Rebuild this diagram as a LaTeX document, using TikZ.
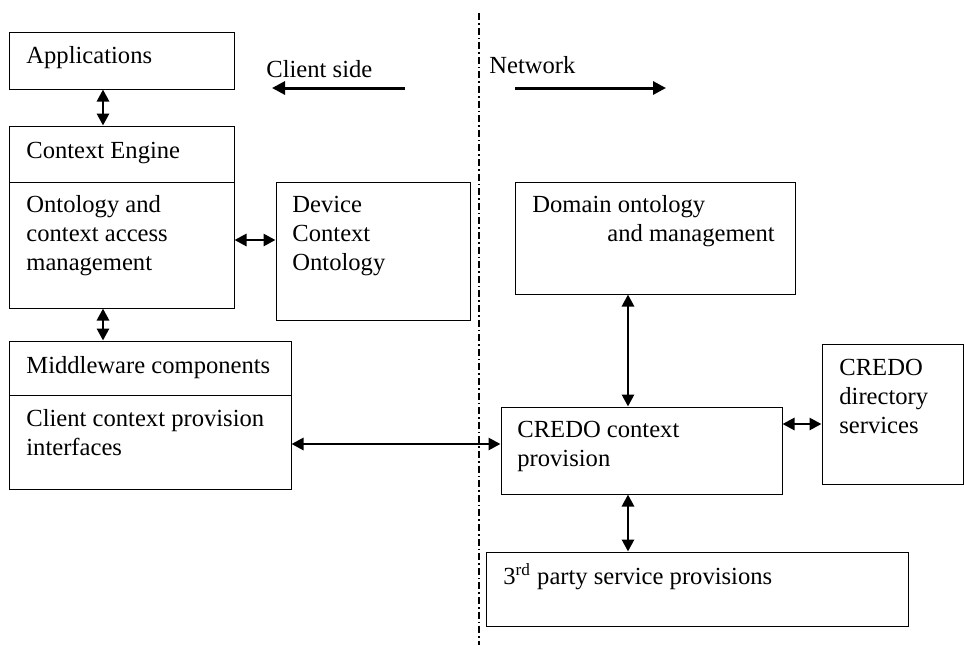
\documentclass[tikz,border=0pt]{standalone}
\usepackage{fontspec}
\setmainfont{Liberation Serif}
\usepackage{tikz}
\usetikzlibrary{arrows.meta,positioning,calc}

\tikzset{
  box/.style={draw, line width=0.5pt, rectangle, inner sep=0pt},
  txt/.style={anchor=base west, align=left, inner sep=0pt,
    font=\fontsize{12.3}{14.5}\selectfont},
  dbl/.style={{Triangle[length=6pt,width=6pt]}-{Triangle[length=6pt,width=6pt]}, line width=1.4pt},
  sgl/.style={-{Triangle[length=6.5pt,width=6.5pt]}, line width=1.5pt},
  border/.style={line width=0.75pt, dash pattern=on 3.5pt off 1.5pt on 0.8pt off 1.5pt}
}

\begin{document}
\begin{tikzpicture}[x=0.5pt, y=-0.5pt]
    \useasboundingbox (0,0) rectangle (964,645);

    % Client side boxes
    \node[box, minimum width=112.5pt, minimum height=28.5pt] (app) at (121.5,60.5) {};
    \node[box, minimum width=112.5pt, minimum height=28pt] (eng) at (121.5,154) {};
    \node[box, minimum width=112.5pt, minimum height=63pt] (ont) at (121.5,245) {};
    \node[box, minimum width=97pt, minimum height=69pt] (dev) at (373,251) {};
    \node[box, minimum width=141pt, minimum height=27pt] (mw) at (150,368) {};
    \node[box, minimum width=141pt, minimum height=47pt] (cif) at (150,442) {};

    % Network boxes
    \node[box, minimum width=140pt, minimum height=56pt] (dom) at (655,238) {};
    \node[box, minimum width=140.5pt, minimum height=43.5pt] (credo) at (641.5,450.5) {};
    \node[box, minimum width=70.5pt, minimum height=70pt] (dir) at (892.5,414) {};
    \node[box, minimum width=211pt, minimum height=37pt] (tp) at (697,589) {};

    % Texts (base = baseline of the last line)
    \node[txt] (tapp) at (26,63) {Applications};
    \node[txt] (teng) at (26,158) {Context Engine};
    \node[txt] (tont) at (26,270) {Ontology and\\context access\\management};
    \node[txt] (tdev) at (292,270) {Device\\Context\\Ontology};
    \node[txt] (tmw) at (26,373) {Middleware components};
    \node[txt] (tcif) at (26,455) {Client context provision\\interfaces};
    \node[txt] (tdom) at (532,241) {Domain ontology\\\hspace*{37.5pt}and management};
    \node[txt] (tcredo) at (517,466) {CREDO context\\provision};
    \node[txt] (tdir) at (839,433) {CREDO\\directory\\services};
    \node[txt] (ttp) at (503,584) {3\textsuperscript{rd} party service provisions};
    \node[txt] (tcs) at (266,77) {Client side};
    \node[txt] (tnet) at (489,73) {Network};

    % Helper coordinates
    \coordinate (xl) at (103,0);
    \coordinate (xr) at (628,0);
    \coordinate (yo) at (0,240);
    \coordinate (yc) at (0,444);
    \coordinate (yd) at (0,424);
    \coordinate (cs1) at (405,88);
    \coordinate (cs2) at (272,88);
    \coordinate (nw1) at (515,88);
    \coordinate (nw2) at (666,88);
    \coordinate (bt) at (479,13);
    \coordinate (bb) at (479,645);

    % Divider
    \draw[border] (bt) -- (bb);

    % Direction arrows
    \draw[sgl] (cs1) -- (cs2);
    \draw[sgl] (nw1) -- (nw2);

    % Connectors
    \draw[dbl] (app.south -| xl) -- (eng.north -| xl);
    \draw[dbl] (ont.east |- yo) -- (dev.west |- yo);
    \draw[dbl] (ont.south -| xl) -- (mw.north -| xl);
    \draw[dbl] (cif.east |- yc) -- (credo.west |- yc);
    \draw[dbl] (dom.south -| xr) -- (credo.north -| xr);
    \draw[dbl] (credo.east |- yd) -- (dir.west |- yd);
    \draw[dbl] (credo.south -| xr) -- (tp.north -| xr);
\end{tikzpicture}
\end{document}
